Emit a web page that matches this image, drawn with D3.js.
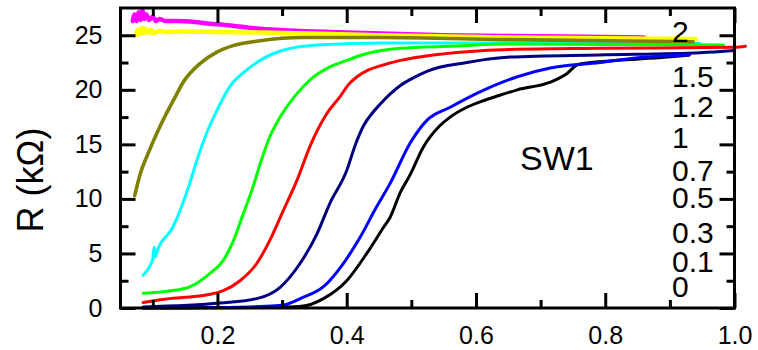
<!DOCTYPE html>
<html><head><meta charset="utf-8">
<script src="https://cdn.jsdelivr.net/npm/d3@7"></script>
<style>
html,body{margin:0;padding:0;background:#fff;}
svg{display:block;}
text{font-family:"Liberation Sans",Arial,Helvetica,sans-serif;fill:#000;}
</style>
</head><body>
<svg id="c" width="758" height="350"></svg>
<script>
// ---- data ----
const fields = ["0","0.1","0.3","0.5","0.7","1","1.2","1.5","2"];
const xTicksMajor = [0.2,0.4,0.6,0.8,1.0];
const xTicksMinor = [0.1,0.3,0.5,0.7,0.9];
const yTicksMajor = [0,5,10,15,20,25];
const yTicksMinor = [2.5,7.5,12.5,17.5,22.5];
const yTitle = "R (k\u03A9)";
const sampleName = "SW1";

const x_0 = [0.085,0.2,0.28,0.33,0.364,0.4,0.431,0.457,0.467,0.483,0.498,0.518,0.544,0.56,0.586,0.611,0.637,0.664,0.715,0.741,0.757,0.777,0.818,0.896,0.93];
const R_0 = [0.0,0.02,0.05,0.15,0.86,2.5,5.0,7.4,8.3,10.6,12.2,14.7,16.7,17.5,18.4,19.0,19.5,20.0,20.7,21.5,22.3,22.5,22.7,23.0,23.2];

const x_01 = [0.085,0.2,0.29,0.308,0.328,0.364,0.395,0.421,0.446,0.467,0.498,0.524,0.56,0.602,0.664,0.715,0.792,0.843,0.93];
const R_01 = [0.0,0.05,0.2,0.35,0.86,1.95,4.1,6.5,9.25,11.4,15.1,17.2,18.4,19.7,21.2,22.0,22.5,22.9,23.2];

const x_03 = [0.085,0.204,0.261,0.297,0.328,0.354,0.374,0.4,0.413,0.426,0.44,0.452,0.467,0.483,0.5,0.524,0.586,0.653,0.79,0.947,1.0];
const R_03 = [0.1,0.45,0.86,1.9,4.1,6.8,9.6,12.6,14.9,16.7,17.9,18.7,19.6,20.4,21.0,21.7,22.5,23.0,23.2,23.4,23.6];

const x_05 = [0.085,0.131,0.157,0.209,0.235,0.261,0.281,0.302,0.323,0.343,0.369,0.39,0.403,0.416,0.433,0.452,0.483,0.534,0.586,0.653,0.79,1.0,1.017];
const R_05 = [0.5,0.9,1.0,1.6,2.5,4.1,6.2,8.95,11.7,14.8,17.8,19.4,20.5,21.2,21.8,22.2,22.7,23.2,23.5,23.7,23.8,23.9,24.0];

const x_07 = [0.085,0.131,0.157,0.188,0.209,0.225,0.24,0.255,0.266,0.281,0.297,0.323,0.343,0.374,0.4,0.43,0.483,0.56,0.653,0.983];
const R_07 = [1.35,1.6,1.93,3.15,4.37,6.2,8.65,11.1,13.2,15.7,17.5,19.65,20.9,22.1,22.7,23.3,23.8,24.0,24.2,24.1];

const x_1 = [0.085,0.095,0.1,0.102,0.104,0.106,0.131,0.157,0.168,0.183,0.199,0.219,0.245,0.266,0.30,0.354,0.456,0.65,0.947];
const R_1 = [3.0,3.8,4.5,5.6,4.7,5.1,7.4,11.4,13.5,16.0,18.1,20.3,21.8,22.7,23.6,24.1,24.3,24.3,24.25];

const x_12 = [0.072,0.08,0.093,0.106,0.119,0.132,0.147,0.173,0.199,0.224,0.266,0.33,0.45,0.653,0.936];
const R_12 = [10.3,12.2,14.2,16.0,17.6,19.05,20.7,22.4,23.45,24.05,24.5,24.8,24.8,24.6,24.4];

const x_15 = [0.074,0.077,0.08,0.083,0.086,0.089,0.093,0.097,0.102,0.11,0.12,0.14,0.2,0.27,0.45,0.65,0.94];
const R_15 = [25.0,25.5,25.1,25.7,25.2,25.6,25.2,25.5,25.2,25.4,25.3,25.35,25.3,25.25,25.0,24.8,24.65];

const x_2 = [0.069,0.072,0.075,0.078,0.081,0.084,0.087,0.09,0.094,0.1,0.105,0.11,0.12,0.14,0.2,0.266,0.4,0.55,0.7,0.86];
const R_2 = [26.3,26.9,26.3,27.1,26.4,27.3,26.5,26.9,26.4,26.7,26.3,26.5,26.3,26.3,26.0,25.6,25.25,25.0,24.9,24.8];

// ---- styles / layout ----
const xs = [x_0,x_01,x_03,x_05,x_07,x_1,x_12,x_15,x_2];
const Rs = [R_0,R_01,R_03,R_05,R_07,R_1,R_12,R_15,R_2];
const colors = ["#000000","#0000ff","#000080","#ff0000","#00ff00","#00ffff","#808000","#ffff00","#ff00ff"];
const widths = [3,3,3,3,3,3,3.6,4.5,4.5];
const drawOrder = [8,7,5,4,6,3,0,2,1];
const labelBaselines = [297,272,243,208,181,148,117,87,42];

const svg = d3.select("#c");
const L=120.5, R=734.5, T=8, B=308;
const x = d3.scaleLinear().domain([0.05,1.0]).range([L,R]);
const y = d3.scaleLinear().domain([0,27.5]).range([B,T]);

const line = d3.line().x(d=>x(d[0])).y(d=>y(d[1])).curve(d3.curveMonotoneX);

const gLines = svg.append("g");
drawOrder.forEach(i=>{
  const pts = xs[i].map((v,j)=>[v,Rs[i][j]]);
  gLines.append("path").datum(pts)
    .attr("d",line).attr("fill","none")
    .attr("stroke",colors[i]).attr("stroke-width",widths[i])
    .attr("stroke-linejoin","round").attr("stroke-linecap","round");
});

// axes
function styleAxis(g){
  g.select(".domain").remove();
  g.selectAll(".tick line").attr("stroke","#000").attr("stroke-width",3);
  g.selectAll("text").attr("font-size",25).attr("font-family","Liberation Sans, Arial, sans-serif").attr("fill","#000");
}
svg.append("g").attr("transform",`translate(0,${B})`)
  .call(d3.axisBottom(x).tickValues(xTicksMajor).tickSize(-15).tickPadding(18).tickFormat(d3.format(".1f"))).call(styleAxis);
svg.append("g").attr("transform",`translate(0,${B})`)
  .call(d3.axisBottom(x).tickValues(xTicksMinor).tickSize(-8).tickFormat("")).call(styleAxis);
svg.append("g").attr("transform",`translate(0,${T})`)
  .call(d3.axisTop(x).tickValues(xTicksMajor).tickSize(-15).tickFormat("")).call(styleAxis);
svg.append("g").attr("transform",`translate(0,${T})`)
  .call(d3.axisTop(x).tickValues(xTicksMinor).tickSize(-8).tickFormat("")).call(styleAxis);
svg.append("g").attr("transform",`translate(${L},0)`)
  .call(d3.axisLeft(y).tickValues(yTicksMajor).tickSize(-15).tickPadding(18).tickFormat(d3.format("d"))).call(styleAxis);
svg.append("g").attr("transform",`translate(${L},0)`)
  .call(d3.axisLeft(y).tickValues(yTicksMinor).tickSize(-8).tickFormat("")).call(styleAxis);
svg.append("g").attr("transform",`translate(${R},0)`)
  .call(d3.axisRight(y).tickValues(yTicksMajor).tickSize(-15).tickFormat("")).call(styleAxis);
svg.append("g").attr("transform",`translate(${R},0)`)
  .call(d3.axisRight(y).tickValues(yTicksMinor).tickSize(-8).tickFormat("")).call(styleAxis);

svg.append("rect").attr("x",L).attr("y",T).attr("width",R-L).attr("height",B-T)
  .attr("fill","none").attr("stroke","#000").attr("stroke-width",3);

// y title
svg.append("text").attr("transform",`translate(43,180) rotate(-90)`)
  .attr("text-anchor","middle").attr("font-size",36).text(yTitle);

// sample name
svg.append("text").attr("x",520).attr("y",170).attr("font-size",34).text(sampleName);

// curve labels
fields.forEach((f,i)=>{
  svg.append("text").attr("x",672).attr("y",labelBaselines[i]).attr("font-size",30).text(f);
});
</script>
</body></html>
